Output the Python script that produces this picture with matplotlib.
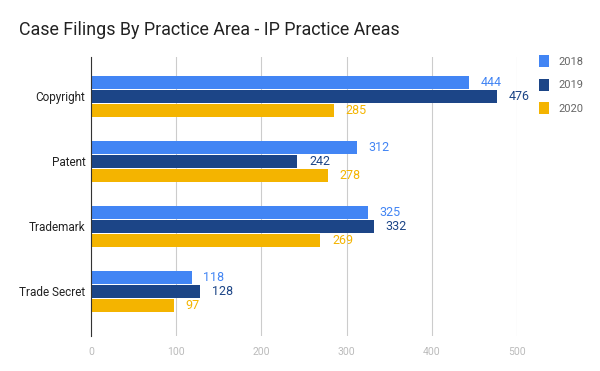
import numpy as np
from matplotlib import pyplot as plt

categories = ['Copyright', 'Patent', 'Trademark', 'Trade Secret']
years = ['2018', '2019', '2020']
vals_2018 = [444, 312, 325, 118]
vals_2019 = [476, 242, 332, 128]
vals_2020 = [285, 278, 269, 97]
x_ticks = [0, 100, 200, 300, 400, 500]

colours = ['#4285f4', '#1c4587', '#f4b400']
plt.rcParams['font.family'] = ['Roboto', 'DejaVu Sans']

fig = plt.figure(figsize=(6, 3.71), dpi=100)
ax = fig.add_axes([91 / 600, 35 / 371, 426 / 600, 279 / 371])

y = np.arange(len(categories))
pitch = 0.215
height = 0.2
for i, (series, colour) in enumerate(zip([vals_2018, vals_2019, vals_2020], colours)):
    pos = y + (i - 1) * pitch
    ax.barh(pos, series, height=height, color=colour, label=years[i], zorder=3)
    for p, v in zip(pos, series):
        ax.annotate(str(v), (v, p), xytext=(8.5, 0), textcoords='offset points',
                    va='center', ha='left', fontsize=9, color=colour,
                    annotation_clip=False)

ax.set_xlim(0, 500)
ax.set_ylim(3.69, -0.6)
ax.set_xticks(x_ticks)
ax.set_yticks(y)
ax.set_yticklabels(categories, fontsize=8.5, color='#222222')
ax.tick_params(axis='x', labelsize=7.5, labelcolor='#bbbbbb', length=0, pad=8)
ax.tick_params(axis='y', length=0, pad=4)
ax.grid(axis='x', color='#cccccc', linewidth=0.8, zorder=0)
for side in ['top', 'right', 'bottom']:
    ax.spines[side].set_visible(False)
ax.spines['left'].set_color('#333333')
ax.spines['left'].set_linewidth(0.8)
ax.spines['left'].set_zorder(4)

fig.text(19 / 600, 1 - 30 / 371, 'Case Filings By Practice Area - IP Practice Areas',
         fontsize=12.9, color='#222222', va='center', ha='left')

handles, labels = ax.get_legend_handles_labels()
leg = fig.legend(handles, labels, loc='upper left', bbox_to_anchor=(535 / 600, 1 - 51 / 371),
                 frameon=False, fontsize=8, handlelength=0.85, handleheight=1.25,
                 labelspacing=1.05, handletextpad=0.9, borderaxespad=0)
for t in leg.get_texts():
    t.set_color('#666666')

fig.savefig('out.png', dpi=100)
